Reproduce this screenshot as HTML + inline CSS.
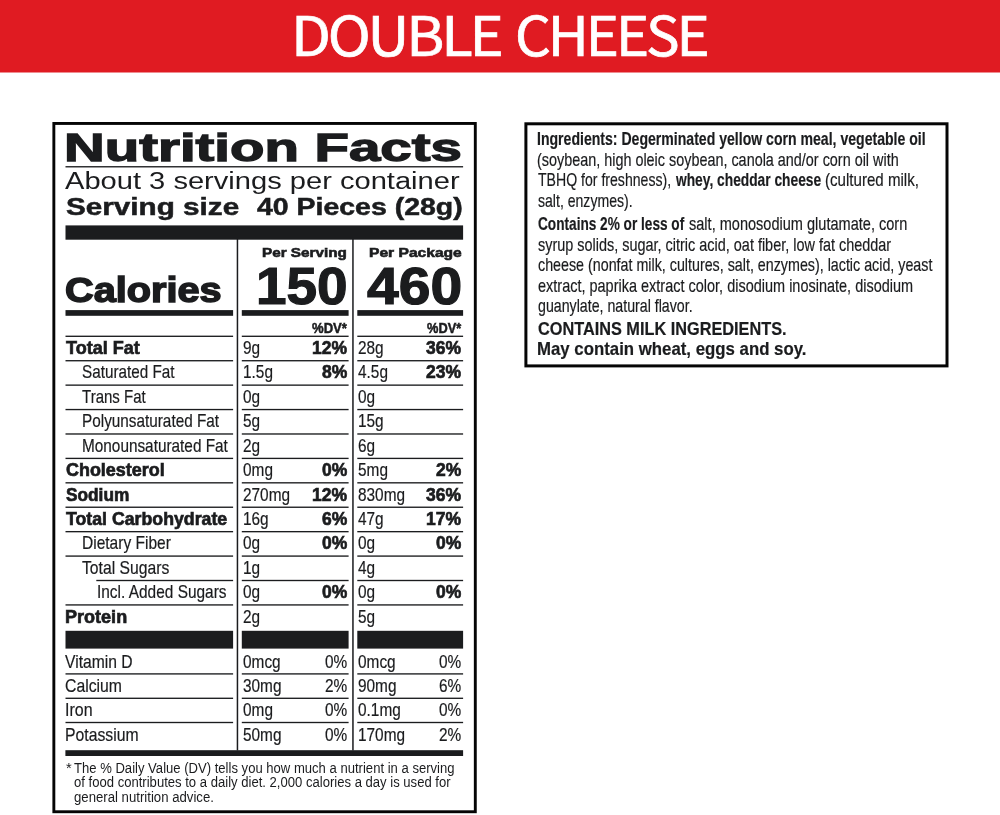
<!DOCTYPE html>
<html><head><meta charset="utf-8"><title>Double Cheese Nutrition Facts</title>
<style>
html,body{margin:0;padding:0;background:#fff}
body{width:1000px;height:815px;position:relative;overflow:hidden;font-family:"Liberation Sans", sans-serif;color:#1b1c1e}
.t{position:absolute;white-space:pre;line-height:1;transform-origin:0 0;display:block}
svg{position:absolute;left:0;top:0}
</style></head><body>
<svg width="1000" height="815" viewBox="0 0 1000 815">
<rect x="53.85" y="123.45" width="421.45" height="688.3" fill="none" stroke="#050505" stroke-width="2.9"/>
<rect x="525.9" y="123.8" width="421.1" height="242.1" fill="none" stroke="#050505" stroke-width="3"/>

<rect x="0.00" y="0.00" width="1000.00" height="72.50" fill="#e01b22"/>
<rect x="65.50" y="166.10" width="397.60" height="1.35" fill="#1b1c1e"/>
<rect x="65.50" y="225.40" width="397.60" height="14.30" fill="#1b1c1e"/>
<rect x="65.50" y="310.10" width="167.60" height="5.70" fill="#1b1c1e"/>
<rect x="241.80" y="310.10" width="106.80" height="5.70" fill="#1b1c1e"/>
<rect x="357.30" y="310.10" width="105.80" height="5.70" fill="#1b1c1e"/>
<rect x="236.70" y="239.00" width="1.50" height="511.50" fill="#1b1c1e"/>
<rect x="352.20" y="239.00" width="1.50" height="511.50" fill="#1b1c1e"/>
<rect x="65.50" y="335.62" width="167.60" height="1.35" fill="#1b1c1e"/>
<rect x="241.80" y="335.62" width="106.80" height="1.35" fill="#1b1c1e"/>
<rect x="357.30" y="335.62" width="105.80" height="1.35" fill="#1b1c1e"/>
<rect x="65.50" y="360.05" width="167.60" height="1.35" fill="#1b1c1e"/>
<rect x="241.80" y="360.05" width="106.80" height="1.35" fill="#1b1c1e"/>
<rect x="357.30" y="360.05" width="105.80" height="1.35" fill="#1b1c1e"/>
<rect x="65.50" y="384.46" width="167.60" height="1.35" fill="#1b1c1e"/>
<rect x="241.80" y="384.46" width="106.80" height="1.35" fill="#1b1c1e"/>
<rect x="357.30" y="384.46" width="105.80" height="1.35" fill="#1b1c1e"/>
<rect x="65.50" y="408.88" width="167.60" height="1.35" fill="#1b1c1e"/>
<rect x="241.80" y="408.88" width="106.80" height="1.35" fill="#1b1c1e"/>
<rect x="357.30" y="408.88" width="105.80" height="1.35" fill="#1b1c1e"/>
<rect x="65.50" y="433.31" width="167.60" height="1.35" fill="#1b1c1e"/>
<rect x="241.80" y="433.31" width="106.80" height="1.35" fill="#1b1c1e"/>
<rect x="357.30" y="433.31" width="105.80" height="1.35" fill="#1b1c1e"/>
<rect x="65.50" y="457.73" width="167.60" height="1.35" fill="#1b1c1e"/>
<rect x="241.80" y="457.73" width="106.80" height="1.35" fill="#1b1c1e"/>
<rect x="357.30" y="457.73" width="105.80" height="1.35" fill="#1b1c1e"/>
<rect x="65.50" y="482.15" width="167.60" height="1.35" fill="#1b1c1e"/>
<rect x="241.80" y="482.15" width="106.80" height="1.35" fill="#1b1c1e"/>
<rect x="357.30" y="482.15" width="105.80" height="1.35" fill="#1b1c1e"/>
<rect x="65.50" y="506.56" width="167.60" height="1.35" fill="#1b1c1e"/>
<rect x="241.80" y="506.56" width="106.80" height="1.35" fill="#1b1c1e"/>
<rect x="357.30" y="506.56" width="105.80" height="1.35" fill="#1b1c1e"/>
<rect x="65.50" y="530.99" width="167.60" height="1.35" fill="#1b1c1e"/>
<rect x="241.80" y="530.99" width="106.80" height="1.35" fill="#1b1c1e"/>
<rect x="357.30" y="530.99" width="105.80" height="1.35" fill="#1b1c1e"/>
<rect x="65.50" y="555.41" width="167.60" height="1.35" fill="#1b1c1e"/>
<rect x="241.80" y="555.41" width="106.80" height="1.35" fill="#1b1c1e"/>
<rect x="357.30" y="555.41" width="105.80" height="1.35" fill="#1b1c1e"/>
<rect x="96.30" y="579.83" width="136.80" height="1.35" fill="#1b1c1e"/>
<rect x="241.80" y="579.83" width="106.80" height="1.35" fill="#1b1c1e"/>
<rect x="357.30" y="579.83" width="105.80" height="1.35" fill="#1b1c1e"/>
<rect x="65.50" y="604.25" width="167.60" height="1.35" fill="#1b1c1e"/>
<rect x="241.80" y="604.25" width="106.80" height="1.35" fill="#1b1c1e"/>
<rect x="357.30" y="604.25" width="105.80" height="1.35" fill="#1b1c1e"/>
<rect x="65.50" y="630.80" width="167.60" height="17.80" fill="#1b1c1e"/>
<rect x="65.50" y="673.23" width="167.60" height="1.35" fill="#1b1c1e"/>
<rect x="65.50" y="697.62" width="167.60" height="1.35" fill="#1b1c1e"/>
<rect x="65.50" y="721.83" width="167.60" height="1.35" fill="#1b1c1e"/>
<rect x="241.80" y="630.80" width="106.80" height="17.80" fill="#1b1c1e"/>
<rect x="241.80" y="673.23" width="106.80" height="1.35" fill="#1b1c1e"/>
<rect x="241.80" y="697.62" width="106.80" height="1.35" fill="#1b1c1e"/>
<rect x="241.80" y="721.83" width="106.80" height="1.35" fill="#1b1c1e"/>
<rect x="357.30" y="630.80" width="105.80" height="17.80" fill="#1b1c1e"/>
<rect x="357.30" y="673.23" width="105.80" height="1.35" fill="#1b1c1e"/>
<rect x="357.30" y="697.62" width="105.80" height="1.35" fill="#1b1c1e"/>
<rect x="357.30" y="721.83" width="105.80" height="1.35" fill="#1b1c1e"/>
<rect x="65.40" y="750.20" width="397.70" height="5.80" fill="#1b1c1e"/>
</svg>
<header>
<span class="t" style="left:291.06px;top:6px;font-size:54.68px;transform:scaleX(1.0613);font-family:'Noto Sans CJK SC','Liberation Sans',sans-serif;letter-spacing:-3.0px;color:#fff;-webkit-text-stroke:0.7px #fff;">DOUBLE</span>
<span class="t" style="left:515.02px;top:6px;font-size:54.68px;transform:scaleX(1.0311);font-family:'Noto Sans CJK SC','Liberation Sans',sans-serif;letter-spacing:-3.0px;color:#fff;-webkit-text-stroke:0.7px #fff;">CHEESE</span>
</header>
<section class="nutrition-facts">
<span class="t" style="left:63.87px;top:128px;font-size:39.36px;transform:scaleX(1.4327);font-weight:700;-webkit-text-stroke:1.3px #1b1c1e;">Nutrition Facts</span>
<span class="t" style="left:65.20px;top:169px;font-size:24.83px;transform:scaleX(1.1718);">About 3 servings per container</span>
<span class="t" style="left:65.82px;top:196px;font-size:23.37px;transform:scaleX(1.2702);font-weight:700;-webkit-text-stroke:0.5px #1b1c1e;">Serving size</span>
<span class="t" style="left:256.80px;top:196px;font-size:23.37px;transform:scaleX(1.2182);font-weight:700;-webkit-text-stroke:0.5px #1b1c1e;">40 Pieces (28g)</span>
<span class="t" style="left:262.15px;top:246px;font-size:13.2px;transform:scaleX(1.1565);font-weight:700;-webkit-text-stroke:0.6px #1b1c1e;">Per Serving</span>
<span class="t" style="left:368.65px;top:246px;font-size:13.2px;transform:scaleX(1.1828);font-weight:700;-webkit-text-stroke:0.6px #1b1c1e;">Per Package</span>
<span class="t" style="left:65.32px;top:272px;font-size:35.0px;transform:scaleX(1.1335);font-weight:700;-webkit-text-stroke:1.5px #1b1c1e;">Calories</span>
<span class="t" style="left:255.59px;top:260px;font-size:52.44px;transform:scaleX(1.0470);font-weight:700;-webkit-text-stroke:1.2px #1b1c1e;">150</span>
<span class="t" style="left:366.65px;top:260px;font-size:52.44px;transform:scaleX(1.0877);font-weight:700;-webkit-text-stroke:1.2px #1b1c1e;">460</span>
<span class="t" style="left:312.12px;top:321px;font-size:14.65px;transform:scaleX(0.8932);font-weight:700;-webkit-text-stroke:0.5px #1b1c1e;">%DV*</span>
<span class="t" style="left:427.47px;top:321px;font-size:14.65px;transform:scaleX(0.8744);font-weight:700;-webkit-text-stroke:0.5px #1b1c1e;">%DV*</span>
<span class="t" style="left:65.83px;top:338px;font-size:19.01px;transform:scaleX(0.9491);font-weight:700;-webkit-text-stroke:0.7px #1b1c1e;">Total Fat</span>
<span class="t" style="left:242.90px;top:338px;font-size:19.01px;transform:scaleX(0.8100);-webkit-text-stroke:0.2px #1b1c1e;">9g</span>
<span class="t" style="left:358.30px;top:338px;font-size:19.01px;transform:scaleX(0.8100);-webkit-text-stroke:0.2px #1b1c1e;">28g</span>
<span class="t" style="left:311.89px;top:338px;font-size:19.01px;transform:scaleX(0.9200);font-weight:700;-webkit-text-stroke:0.7px #1b1c1e;">12%</span>
<span class="t" style="left:426.19px;top:338px;font-size:19.01px;transform:scaleX(0.9200);font-weight:700;-webkit-text-stroke:0.7px #1b1c1e;">36%</span>
<span class="t" style="left:82.38px;top:362px;font-size:19.01px;transform:scaleX(0.8040);-webkit-text-stroke:0.2px #1b1c1e;">Saturated Fat</span>
<span class="t" style="left:242.90px;top:362px;font-size:19.01px;transform:scaleX(0.8100);-webkit-text-stroke:0.2px #1b1c1e;">1.5g</span>
<span class="t" style="left:358.30px;top:362px;font-size:19.01px;transform:scaleX(0.8100);-webkit-text-stroke:0.2px #1b1c1e;">4.5g</span>
<span class="t" style="left:321.62px;top:362px;font-size:19.01px;transform:scaleX(0.9200);font-weight:700;-webkit-text-stroke:0.7px #1b1c1e;">8%</span>
<span class="t" style="left:426.19px;top:362px;font-size:19.01px;transform:scaleX(0.9200);font-weight:700;-webkit-text-stroke:0.7px #1b1c1e;">23%</span>
<span class="t" style="left:82.38px;top:387px;font-size:19.01px;transform:scaleX(0.7913);-webkit-text-stroke:0.2px #1b1c1e;">Trans Fat</span>
<span class="t" style="left:242.90px;top:387px;font-size:19.01px;transform:scaleX(0.8100);-webkit-text-stroke:0.2px #1b1c1e;">0g</span>
<span class="t" style="left:358.30px;top:387px;font-size:19.01px;transform:scaleX(0.8100);-webkit-text-stroke:0.2px #1b1c1e;">0g</span>
<span class="t" style="left:81.57px;top:411px;font-size:19.01px;transform:scaleX(0.8060);-webkit-text-stroke:0.2px #1b1c1e;">Polyunsaturated Fat</span>
<span class="t" style="left:242.90px;top:411px;font-size:19.01px;transform:scaleX(0.8100);-webkit-text-stroke:0.2px #1b1c1e;">5g</span>
<span class="t" style="left:358.30px;top:411px;font-size:19.01px;transform:scaleX(0.8100);-webkit-text-stroke:0.2px #1b1c1e;">15g</span>
<span class="t" style="left:81.57px;top:436px;font-size:19.01px;transform:scaleX(0.8076);-webkit-text-stroke:0.2px #1b1c1e;">Monounsaturated Fat</span>
<span class="t" style="left:242.90px;top:436px;font-size:19.01px;transform:scaleX(0.8100);-webkit-text-stroke:0.2px #1b1c1e;">2g</span>
<span class="t" style="left:358.30px;top:436px;font-size:19.01px;transform:scaleX(0.8100);-webkit-text-stroke:0.2px #1b1c1e;">6g</span>
<span class="t" style="left:65.83px;top:460px;font-size:19.01px;transform:scaleX(0.9438);font-weight:700;-webkit-text-stroke:0.7px #1b1c1e;">Cholesterol</span>
<span class="t" style="left:242.90px;top:460px;font-size:19.01px;transform:scaleX(0.8100);-webkit-text-stroke:0.2px #1b1c1e;">0mg</span>
<span class="t" style="left:358.30px;top:460px;font-size:19.01px;transform:scaleX(0.8100);-webkit-text-stroke:0.2px #1b1c1e;">5mg</span>
<span class="t" style="left:321.62px;top:460px;font-size:19.01px;transform:scaleX(0.9200);font-weight:700;-webkit-text-stroke:0.7px #1b1c1e;">0%</span>
<span class="t" style="left:435.92px;top:460px;font-size:19.01px;transform:scaleX(0.9200);font-weight:700;-webkit-text-stroke:0.7px #1b1c1e;">2%</span>
<span class="t" style="left:65.82px;top:485px;font-size:19.01px;transform:scaleX(0.9083);font-weight:700;-webkit-text-stroke:0.7px #1b1c1e;">Sodium</span>
<span class="t" style="left:242.90px;top:485px;font-size:19.01px;transform:scaleX(0.8100);-webkit-text-stroke:0.2px #1b1c1e;">270mg</span>
<span class="t" style="left:358.30px;top:485px;font-size:19.01px;transform:scaleX(0.8100);-webkit-text-stroke:0.2px #1b1c1e;">830mg</span>
<span class="t" style="left:311.89px;top:485px;font-size:19.01px;transform:scaleX(0.9200);font-weight:700;-webkit-text-stroke:0.7px #1b1c1e;">12%</span>
<span class="t" style="left:426.19px;top:485px;font-size:19.01px;transform:scaleX(0.9200);font-weight:700;-webkit-text-stroke:0.7px #1b1c1e;">36%</span>
<span class="t" style="left:65.83px;top:509px;font-size:19.01px;transform:scaleX(0.9328);font-weight:700;-webkit-text-stroke:0.7px #1b1c1e;">Total Carbohydrate</span>
<span class="t" style="left:242.90px;top:509px;font-size:19.01px;transform:scaleX(0.8100);-webkit-text-stroke:0.2px #1b1c1e;">16g</span>
<span class="t" style="left:358.30px;top:509px;font-size:19.01px;transform:scaleX(0.8100);-webkit-text-stroke:0.2px #1b1c1e;">47g</span>
<span class="t" style="left:321.62px;top:509px;font-size:19.01px;transform:scaleX(0.9200);font-weight:700;-webkit-text-stroke:0.7px #1b1c1e;">6%</span>
<span class="t" style="left:426.19px;top:509px;font-size:19.01px;transform:scaleX(0.9200);font-weight:700;-webkit-text-stroke:0.7px #1b1c1e;">17%</span>
<span class="t" style="left:81.56px;top:533px;font-size:19.01px;transform:scaleX(0.8175);-webkit-text-stroke:0.2px #1b1c1e;">Dietary Fiber</span>
<span class="t" style="left:242.90px;top:533px;font-size:19.01px;transform:scaleX(0.8100);-webkit-text-stroke:0.2px #1b1c1e;">0g</span>
<span class="t" style="left:358.30px;top:533px;font-size:19.01px;transform:scaleX(0.8100);-webkit-text-stroke:0.2px #1b1c1e;">0g</span>
<span class="t" style="left:321.62px;top:533px;font-size:19.01px;transform:scaleX(0.9200);font-weight:700;-webkit-text-stroke:0.7px #1b1c1e;">0%</span>
<span class="t" style="left:435.92px;top:533px;font-size:19.01px;transform:scaleX(0.9200);font-weight:700;-webkit-text-stroke:0.7px #1b1c1e;">0%</span>
<span class="t" style="left:82.38px;top:558px;font-size:19.01px;transform:scaleX(0.8261);-webkit-text-stroke:0.2px #1b1c1e;">Total Sugars</span>
<span class="t" style="left:242.90px;top:558px;font-size:19.01px;transform:scaleX(0.8100);-webkit-text-stroke:0.2px #1b1c1e;">1g</span>
<span class="t" style="left:358.30px;top:558px;font-size:19.01px;transform:scaleX(0.8100);-webkit-text-stroke:0.2px #1b1c1e;">4g</span>
<span class="t" style="left:96.77px;top:582px;font-size:19.01px;transform:scaleX(0.8120);-webkit-text-stroke:0.2px #1b1c1e;">Incl. Added Sugars</span>
<span class="t" style="left:242.90px;top:582px;font-size:19.01px;transform:scaleX(0.8100);-webkit-text-stroke:0.2px #1b1c1e;">0g</span>
<span class="t" style="left:358.30px;top:582px;font-size:19.01px;transform:scaleX(0.8100);-webkit-text-stroke:0.2px #1b1c1e;">0g</span>
<span class="t" style="left:321.62px;top:582px;font-size:19.01px;transform:scaleX(0.9200);font-weight:700;-webkit-text-stroke:0.7px #1b1c1e;">0%</span>
<span class="t" style="left:435.92px;top:582px;font-size:19.01px;transform:scaleX(0.9200);font-weight:700;-webkit-text-stroke:0.7px #1b1c1e;">0%</span>
<span class="t" style="left:64.88px;top:607px;font-size:19.01px;transform:scaleX(0.9497);font-weight:700;-webkit-text-stroke:0.7px #1b1c1e;">Protein</span>
<span class="t" style="left:242.90px;top:607px;font-size:19.01px;transform:scaleX(0.8100);-webkit-text-stroke:0.2px #1b1c1e;">2g</span>
<span class="t" style="left:358.30px;top:607px;font-size:19.01px;transform:scaleX(0.8100);-webkit-text-stroke:0.2px #1b1c1e;">5g</span>
<span class="t" style="left:65.48px;top:652px;font-size:19.01px;transform:scaleX(0.8246);-webkit-text-stroke:0.2px #1b1c1e;">Vitamin D</span>
<span class="t" style="left:242.90px;top:652px;font-size:19.01px;transform:scaleX(0.8100);-webkit-text-stroke:0.2px #1b1c1e;">0mcg</span>
<span class="t" style="left:358.30px;top:652px;font-size:19.01px;transform:scaleX(0.8100);-webkit-text-stroke:0.2px #1b1c1e;">0mcg</span>
<span class="t" style="left:324.69px;top:652px;font-size:19.01px;transform:scaleX(0.8100);-webkit-text-stroke:0.2px #1b1c1e;">0%</span>
<span class="t" style="left:439.19px;top:652px;font-size:19.01px;transform:scaleX(0.8100);-webkit-text-stroke:0.2px #1b1c1e;">0%</span>
<span class="t" style="left:65.48px;top:676px;font-size:19.01px;transform:scaleX(0.8294);-webkit-text-stroke:0.2px #1b1c1e;">Calcium</span>
<span class="t" style="left:242.90px;top:676px;font-size:19.01px;transform:scaleX(0.8100);-webkit-text-stroke:0.2px #1b1c1e;">30mg</span>
<span class="t" style="left:358.30px;top:676px;font-size:19.01px;transform:scaleX(0.8100);-webkit-text-stroke:0.2px #1b1c1e;">90mg</span>
<span class="t" style="left:324.69px;top:676px;font-size:19.01px;transform:scaleX(0.8100);-webkit-text-stroke:0.2px #1b1c1e;">2%</span>
<span class="t" style="left:439.19px;top:676px;font-size:19.01px;transform:scaleX(0.8100);-webkit-text-stroke:0.2px #1b1c1e;">6%</span>
<span class="t" style="left:64.64px;top:700px;font-size:19.01px;transform:scaleX(0.8415);-webkit-text-stroke:0.2px #1b1c1e;">Iron</span>
<span class="t" style="left:242.90px;top:700px;font-size:19.01px;transform:scaleX(0.8100);-webkit-text-stroke:0.2px #1b1c1e;">0mg</span>
<span class="t" style="left:358.30px;top:700px;font-size:19.01px;transform:scaleX(0.8100);-webkit-text-stroke:0.2px #1b1c1e;">0.1mg</span>
<span class="t" style="left:324.69px;top:700px;font-size:19.01px;transform:scaleX(0.8100);-webkit-text-stroke:0.2px #1b1c1e;">0%</span>
<span class="t" style="left:439.19px;top:700px;font-size:19.01px;transform:scaleX(0.8100);-webkit-text-stroke:0.2px #1b1c1e;">0%</span>
<span class="t" style="left:64.65px;top:725px;font-size:19.01px;transform:scaleX(0.8292);-webkit-text-stroke:0.2px #1b1c1e;">Potassium</span>
<span class="t" style="left:242.90px;top:725px;font-size:19.01px;transform:scaleX(0.8100);-webkit-text-stroke:0.2px #1b1c1e;">50mg</span>
<span class="t" style="left:358.30px;top:725px;font-size:19.01px;transform:scaleX(0.8100);-webkit-text-stroke:0.2px #1b1c1e;">170mg</span>
<span class="t" style="left:324.69px;top:725px;font-size:19.01px;transform:scaleX(0.8100);-webkit-text-stroke:0.2px #1b1c1e;">0%</span>
<span class="t" style="left:439.19px;top:725px;font-size:19.01px;transform:scaleX(0.8100);-webkit-text-stroke:0.2px #1b1c1e;">2%</span>
<span class="t" style="left:66.00px;top:761px;font-size:14.65px;transform:scaleX(1.0000);">*</span>
<span class="t" style="left:74.40px;top:761px;font-size:14.65px;transform:scaleX(0.8930);">The % Daily Value (DV) tells you how much a nutrient in a serving</span>
<span class="t" style="left:74.40px;top:775px;font-size:14.65px;transform:scaleX(0.8933);">of food contributes to a daily diet. 2,000 calories a day is used for</span>
<span class="t" style="left:74.40px;top:790px;font-size:14.65px;transform:scaleX(0.9000);">general nutrition advice.</span>
</section>
<section class="ingredients">
<span class="t" style="left:537.33px;top:129px;font-size:19.01px;transform:scaleX(0.7406);font-weight:700;-webkit-text-stroke:0.2px #1b1c1e;">Ingredients: Degerminated yellow corn meal, vegetable oil</span>
<span class="t" style="left:537.32px;top:150px;font-size:19.01px;transform:scaleX(0.7575);-webkit-text-stroke:0.2px #1b1c1e;">(soybean, high oleic soybean, canola and/or corn oil with</span>
<span class="t" style="left:538.37px;top:170px;font-size:19.01px;transform:scaleX(0.7416);-webkit-text-stroke:0.2px #1b1c1e;">TBHQ for freshness),</span>
<span class="t" style="left:676.30px;top:170px;font-size:19.01px;transform:scaleX(0.7246);font-weight:700;-webkit-text-stroke:0.2px #1b1c1e;">whey, cheddar cheese</span>
<span class="t" style="left:824.58px;top:170px;font-size:19.01px;transform:scaleX(0.7945);-webkit-text-stroke:0.2px #1b1c1e;">(cultured milk,</span>
<span class="t" style="left:538.07px;top:191px;font-size:19.01px;transform:scaleX(0.7405);-webkit-text-stroke:0.2px #1b1c1e;">salt, enzymes).</span>
<span class="t" style="left:538.07px;top:214px;font-size:19.01px;transform:scaleX(0.7176);font-weight:700;-webkit-text-stroke:0.2px #1b1c1e;">Contains 2% or less of</span>
<span class="t" style="left:688.88px;top:214px;font-size:19.01px;transform:scaleX(0.7655);-webkit-text-stroke:0.2px #1b1c1e;">salt, monosodium glutamate, corn</span>
<span class="t" style="left:538.08px;top:235px;font-size:19.01px;transform:scaleX(0.7600);-webkit-text-stroke:0.2px #1b1c1e;">syrup solids, sugar, citric acid, oat fiber, low fat cheddar</span>
<span class="t" style="left:538.08px;top:255px;font-size:19.01px;transform:scaleX(0.7515);-webkit-text-stroke:0.2px #1b1c1e;">cheese (nonfat milk, cultures, salt, enzymes), lactic acid, yeast</span>
<span class="t" style="left:538.08px;top:276px;font-size:19.01px;transform:scaleX(0.7622);-webkit-text-stroke:0.2px #1b1c1e;">extract, paprika extract color, disodium inosinate, disodium</span>
<span class="t" style="left:538.07px;top:296px;font-size:19.01px;transform:scaleX(0.7468);-webkit-text-stroke:0.2px #1b1c1e;">guanylate, natural flavor.</span>
<span class="t" style="left:538.09px;top:319px;font-size:19.01px;transform:scaleX(0.8572);font-weight:700;-webkit-text-stroke:0.2px #1b1c1e;">CONTAINS MILK INGREDIENTS.</span>
<span class="t" style="left:537.20px;top:339px;font-size:19.01px;transform:scaleX(0.8841);font-weight:700;-webkit-text-stroke:0.2px #1b1c1e;">May contain wheat, eggs and soy.</span>
</section>

</body></html>
